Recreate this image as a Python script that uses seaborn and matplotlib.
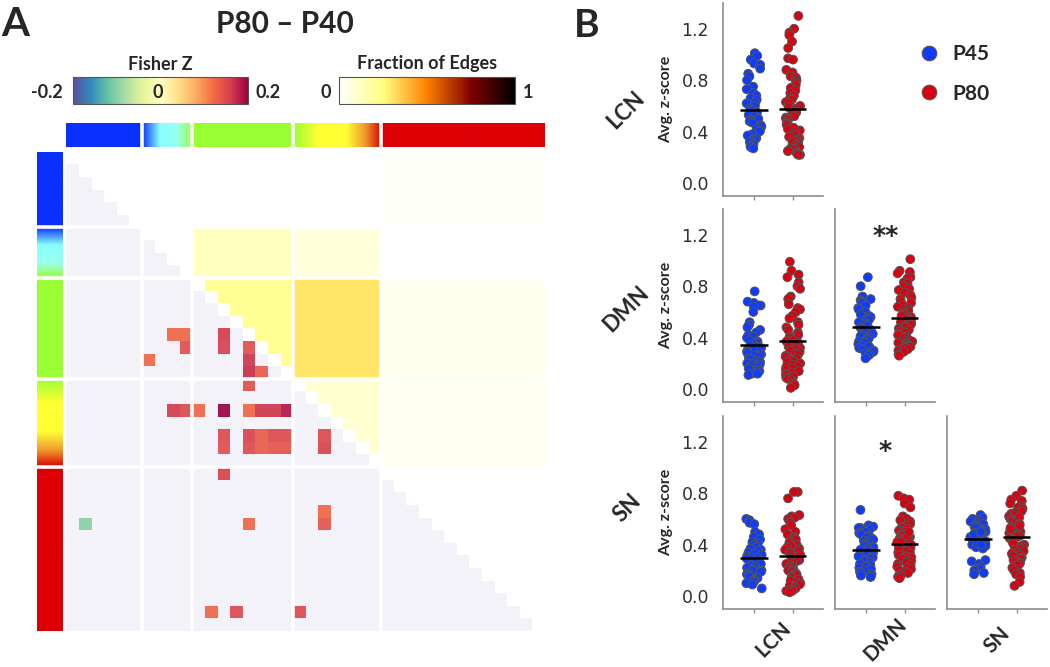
import numpy as np
import pandas as pd
import matplotlib
matplotlib.use("Agg")
import matplotlib.pyplot as plt
import seaborn as sns
from matplotlib.colors import ListedColormap, LinearSegmentedColormap, Normalize
from matplotlib.cm import ScalarMappable
from matplotlib.lines import Line2D

# ---------------- data : panel A ----------------
block_sizes = [6, 4, 8, 7, 13]
# significant edges (row, col, Fisher Z) in the lower triangle
edge_rows = [14, 14, 15, 16, 14, 15, 15, 16, 17, 17, 18,
             20, 20, 20, 20, 20, 20, 20, 20,
             22, 23, 22, 23, 22, 23, 22, 23, 22, 23, 22, 23,
             25, 28, 29, 29, 29, 36, 36, 36]
edge_cols = [8, 9, 9, 6, 12, 12, 14, 14, 14, 15, 14,
             8, 9, 10, 12, 14, 15, 16, 17,
             12, 12, 14, 14, 15, 15, 16, 16, 17, 17, 20, 20,
             12, 20, 20, 1, 14, 11, 13, 18]
edge_z = [0.125, 0.125, 0.145, 0.125, 0.16, 0.155, 0.145, 0.165, 0.17, 0.135, 0.145,
          0.16, 0.15, 0.125, 0.20, 0.125, 0.165, 0.165, 0.185,
          0.15, 0.145, 0.155, 0.15, 0.135, 0.135, 0.15, 0.14, 0.15, 0.14, 0.15, 0.155,
          0.155, 0.125, 0.14, -0.10, 0.125, 0.125, 0.15, 0.15]

# ---------------- data : panel B ----------------
networks = ["LCN", "DMN", "SN"]
groups = ["P45", "P80"]
lcn_lcn_p45 = [1.01, 0.99, 0.96, 0.93, 0.92, 0.89, 0.85, 0.83, 0.80, 0.75, 0.73, 0.70, 0.68, 0.66, 0.65,
               0.63, 0.62, 0.60, 0.58, 0.57, 0.56, 0.55, 0.54, 0.53, 0.52, 0.50, 0.49, 0.48, 0.47, 0.45,
               0.44, 0.42, 0.41, 0.40, 0.38, 0.37, 0.35, 0.34, 0.33, 0.32, 0.31, 0.30, 0.29, 0.28, 0.27]
lcn_lcn_p80 = [1.30, 1.20, 1.17, 1.15, 1.10, 1.05, 0.97, 0.96, 0.88, 0.86, 0.83, 0.82, 0.80, 0.78, 0.76,
               0.74, 0.72, 0.70, 0.68, 0.66, 0.65, 0.63, 0.62, 0.60, 0.59, 0.58, 0.56, 0.55, 0.54, 0.52,
               0.51, 0.50, 0.49, 0.47, 0.46, 0.45, 0.43, 0.42, 0.41, 0.40, 0.38, 0.37, 0.36, 0.35, 0.34,
               0.33, 0.32, 0.31, 0.30, 0.29, 0.28, 0.27, 0.27, 0.26, 0.25, 0.25, 0.24, 0.23, 0.22, 0.22]
dmn_lcn_p45 = [0.76, 0.68, 0.67, 0.65, 0.65, 0.64, 0.60, 0.52, 0.50, 0.48, 0.46, 0.44, 0.42, 0.41, 0.40,
               0.38, 0.37, 0.36, 0.35, 0.34, 0.33, 0.32, 0.31, 0.30, 0.29, 0.28, 0.27, 0.26, 0.25, 0.24,
               0.23, 0.22, 0.21, 0.20, 0.20, 0.19, 0.18, 0.17, 0.16, 0.15, 0.14, 0.13, 0.12, 0.12, 0.11]
dmn_lcn_p80 = [0.99, 0.92, 0.89, 0.87, 0.83, 0.80, 0.78, 0.72, 0.70, 0.66, 0.63, 0.62, 0.60, 0.57, 0.55,
               0.52, 0.50, 0.48, 0.46, 0.44, 0.42, 0.41, 0.40, 0.39, 0.38, 0.37, 0.36, 0.35, 0.34, 0.33,
               0.32, 0.31, 0.30, 0.29, 0.28, 0.27, 0.26, 0.25, 0.24, 0.23, 0.22, 0.21, 0.20, 0.19, 0.18,
               0.17, 0.16, 0.15, 0.14, 0.13, 0.12, 0.11, 0.10, 0.09, 0.08, 0.07, 0.05, 0.04, 0.03, 0.01]
dmn_dmn_p45 = [0.87, 0.80, 0.72, 0.70, 0.69, 0.68, 0.67, 0.65, 0.63, 0.62, 0.60, 0.58, 0.57, 0.56, 0.55,
               0.54, 0.53, 0.52, 0.51, 0.50, 0.49, 0.48, 0.47, 0.46, 0.45, 0.44, 0.43, 0.42, 0.41, 0.40,
               0.39, 0.38, 0.37, 0.36, 0.35, 0.34, 0.33, 0.32, 0.31, 0.30, 0.29, 0.28, 0.27, 0.26, 0.24]
dmn_dmn_p80 = [1.01, 0.92, 0.91, 0.90, 0.87, 0.86, 0.83, 0.82, 0.80, 0.78, 0.77, 0.75, 0.73, 0.71, 0.70,
               0.68, 0.67, 0.65, 0.64, 0.63, 0.62, 0.61, 0.60, 0.59, 0.58, 0.57, 0.56, 0.55, 0.54, 0.53,
               0.52, 0.51, 0.50, 0.49, 0.48, 0.47, 0.46, 0.45, 0.44, 0.43, 0.42, 0.41, 0.40, 0.39, 0.38,
               0.37, 0.36, 0.36, 0.35, 0.34, 0.34, 0.33, 0.33, 0.32, 0.32, 0.31, 0.30, 0.29, 0.27, 0.26]
sn_lcn_p45 = [0.60, 0.59, 0.57, 0.56, 0.50, 0.48, 0.46, 0.44, 0.42, 0.41, 0.40, 0.38, 0.37, 0.36, 0.35,
              0.34, 0.33, 0.32, 0.31, 0.30, 0.30, 0.29, 0.28, 0.27, 0.26, 0.26, 0.25, 0.24, 0.23, 0.22,
              0.21, 0.20, 0.20, 0.19, 0.18, 0.17, 0.16, 0.15, 0.14, 0.13, 0.12, 0.11, 0.10, 0.09, 0.06]
sn_lcn_p80 = [0.81, 0.81, 0.76, 0.63, 0.62, 0.61, 0.60, 0.58, 0.57, 0.55, 0.52, 0.50, 0.48, 0.46, 0.45,
              0.44, 0.42, 0.41, 0.40, 0.39, 0.38, 0.37, 0.36, 0.35, 0.34, 0.33, 0.32, 0.31, 0.30, 0.29,
              0.28, 0.27, 0.26, 0.25, 0.24, 0.23, 0.22, 0.21, 0.20, 0.20, 0.19, 0.18, 0.17, 0.16, 0.15,
              0.14, 0.13, 0.12, 0.11, 0.10, 0.09, 0.08, 0.08, 0.07, 0.06, 0.05, 0.05, 0.04, 0.04, 0.03]
sn_dmn_p45 = [0.67, 0.55, 0.54, 0.53, 0.53, 0.52, 0.51, 0.50, 0.49, 0.48, 0.47, 0.46, 0.45, 0.44, 0.43,
              0.42, 0.41, 0.40, 0.39, 0.38, 0.37, 0.36, 0.35, 0.34, 0.33, 0.32, 0.31, 0.30, 0.30, 0.29,
              0.28, 0.27, 0.26, 0.25, 0.24, 0.23, 0.22, 0.21, 0.20, 0.19, 0.18, 0.17, 0.16, 0.15, 0.15]
sn_dmn_p80 = [0.78, 0.76, 0.75, 0.72, 0.69, 0.62, 0.60, 0.59, 0.58, 0.56, 0.55, 0.54, 0.53, 0.52, 0.51,
              0.50, 0.49, 0.48, 0.47, 0.46, 0.45, 0.44, 0.43, 0.42, 0.41, 0.40, 0.40, 0.39, 0.38, 0.37,
              0.36, 0.35, 0.35, 0.34, 0.33, 0.32, 0.31, 0.30, 0.30, 0.29, 0.28, 0.27, 0.26, 0.25, 0.24,
              0.23, 0.22, 0.21, 0.20, 0.19, 0.18, 0.17, 0.16, 0.15, 0.14, 0.38, 0.42, 0.45, 0.47, 0.50]
sn_sn_p45 = [0.63, 0.61, 0.60, 0.59, 0.58, 0.57, 0.56, 0.55, 0.55, 0.54, 0.53, 0.52, 0.52, 0.51, 0.50,
             0.50, 0.49, 0.48, 0.47, 0.46, 0.45, 0.45, 0.44, 0.43, 0.42, 0.41, 0.40, 0.39, 0.38, 0.37,
             0.46, 0.47, 0.48, 0.49, 0.50, 0.41, 0.40, 0.28, 0.27, 0.25, 0.23, 0.21, 0.20, 0.18, 0.17]
sn_sn_p80 = [0.82, 0.78, 0.75, 0.74, 0.72, 0.70, 0.69, 0.68, 0.66, 0.65, 0.64, 0.63, 0.62, 0.61, 0.60,
             0.59, 0.58, 0.57, 0.56, 0.55, 0.54, 0.53, 0.52, 0.51, 0.50, 0.49, 0.48, 0.47, 0.46, 0.45,
             0.44, 0.43, 0.42, 0.41, 0.40, 0.39, 0.38, 0.37, 0.36, 0.35, 0.34, 0.33, 0.32, 0.31, 0.30,
             0.29, 0.28, 0.27, 0.26, 0.25, 0.24, 0.22, 0.20, 0.18, 0.17, 0.15, 0.11, 0.08, 0.52, 0.55]
significance = {(1, 1): "**", (2, 1): "*"}

# ---------------- styling ----------------
LAV = "#f3f2f8"
BLUE = "#0d3bff"
RED = "#d9000f"
EDGE = "#555555"
SPINE = "#8c8c8c"
block_stops = [
    [(0, "#0a30ff"), (1, "#0a30ff")],
    [(0, "#0a30ff"), (0.35, "#88ffff"), (0.7, "#99ffee"), (1, "#99ff33")],
    [(0, "#99ff33"), (1, "#99ff33")],
    [(0, "#99ff33"), (0.28, "#ffff33"), (0.6, "#ffff33"), (0.8, "#f0a030"), (1, "#dc0000")],
    [(0, "#dc0005"), (1, "#dc0005")],
]
GAP_LW = 2.6
star_y = {"**": 1.19, "*": 1.13}

sns.set_theme(style="white")
plt.rcParams["font.family"] = ["Lato", "DejaVu Sans"]

W, H = 1050, 667
fig = plt.figure(figsize=(W / 100, H / 100), dpi=100)


def box(x0, y0, x1, y1):
    return [x0 / W, 1 - y1 / H, (x1 - x0) / W, (y1 - y0) / H]


# ---------------- panel A : matrix ----------------
n = sum(block_sizes)
bounds = np.cumsum([0] + block_sizes)
node_block = np.repeat(np.arange(len(block_sizes)), block_sizes)
zmat = np.full((n, n), np.nan)
for r, c, z in zip(edge_rows, edge_cols, edge_z):
    zmat[r, c] = z
counts = np.zeros((len(block_sizes),) * 2)
for r, c in zip(edge_rows, edge_cols):
    counts[node_block[r], node_block[c]] += 1
sizes = np.array(block_sizes, dtype=float)
pairs = np.outer(sizes, sizes)
np.fill_diagonal(pairs, sizes * (sizes - 1) / 2)
frac = counts / pairs
frac_sym = frac + frac.T - np.diag(np.diag(frac))
ii, jj = np.indices((n, n))
lower = ii > jj
upper = ii < jj
fmat = np.where(upper, frac_sym[node_block[ii], node_block[jj]], np.nan)

axm = fig.add_axes(box(66.4, 151.8, 545, 631))
sns.heatmap(np.where(lower, 1.0, np.nan), ax=axm, cmap=ListedColormap([LAV]), cbar=False,
            xticklabels=False, yticklabels=False)
sns.heatmap(fmat, ax=axm, cmap="afmhot_r", vmin=0, vmax=1, cbar=False,
            xticklabels=False, yticklabels=False)
sns.heatmap(zmat, ax=axm, cmap="Spectral_r", vmin=-0.2, vmax=0.2, cbar=False,
            xticklabels=False, yticklabels=False, alpha=0.92)
for b in bounds[1:-1]:
    axm.axvline(b, color="white", lw=GAP_LW)
    axm.axhline(b, color="white", lw=GAP_LW)
axm.set_xlim(0, n)
axm.set_ylim(n, 0)

# network colour strips
axt = fig.add_axes(box(66.4, 123, 545, 147))
axl = fig.add_axes(box(37, 151.8, 62.5, 631))
grad = np.linspace(0, 1, 256)
for k in range(len(block_sizes)):
    cm_k = LinearSegmentedColormap.from_list(f"b{k}", block_stops[k])
    axt.imshow(grad[None, :], extent=[bounds[k], bounds[k + 1], 0, 1], cmap=cm_k,
               aspect="auto", interpolation="bilinear")
    axl.imshow(grad[:, None], extent=[0, 1, bounds[k + 1], bounds[k]], cmap=cm_k,
               aspect="auto", interpolation="bilinear")
axt.set_xlim(0, n); axt.set_ylim(0, 1); axt.axis("off")
axl.set_ylim(n, 0); axl.set_xlim(0, 1); axl.axis("off")
for b in bounds[1:-1]:
    axt.axvline(b, color="white", lw=GAP_LW)
    axl.axhline(b, color="white", lw=GAP_LW)

# colour bars
cax1 = fig.add_axes(box(72.7, 77, 248, 104))
cb1 = fig.colorbar(ScalarMappable(Normalize(-0.2, 0.2), "Spectral_r"), cax=cax1, orientation="horizontal")
cax2 = fig.add_axes(box(339, 77, 515, 104))
cb2 = fig.colorbar(ScalarMappable(Normalize(0, 1), "afmhot_r"), cax=cax2, orientation="horizontal")
for cb in (cb1, cb2):
    cb.set_ticks([])
    cb.outline.set_edgecolor("#555555")
    cb.outline.set_linewidth(0.8)

tk = dict(fontsize=13, fontweight="bold", va="center")
fig.text(63 / W, 1 - 93 / H, "-0.2", ha="right", **tk)
fig.text(158 / W, 1 - 92 / H, "0", ha="center", **tk)
fig.text(256 / W, 1 - 93 / H, "0.2", ha="left", **tk)
fig.text(331 / W, 1 - 93 / H, "0", ha="right", **tk)
fig.text(523 / W, 1 - 93 / H, "1", ha="left", **tk)
fig.text(160 / W, 1 - 64 / H, "Fisher Z", ha="center", va="center", fontsize=13, fontweight="bold")
fig.text(427 / W, 1 - 64 / H, "Fraction of Edges", ha="center", va="center", fontsize=13, fontweight="bold")
fig.text(285 / W, 1 - 33 / H, "P80 \u2013 P40", ha="center", va="baseline", fontsize=21.5, fontweight="bold")
fig.text(1 / W, 1 - 36 / H, "A", ha="left", va="baseline", fontsize=29, fontweight="bold")
fig.text(574 / W, 1 - 37 / H, "B", ha="left", va="baseline", fontsize=28, fontweight="bold")

# ---------------- panel B : strip plots ----------------
panels = {
    (0, 0): (lcn_lcn_p45, lcn_lcn_p80),
    (1, 0): (dmn_lcn_p45, dmn_lcn_p80),
    (1, 1): (dmn_dmn_p45, dmn_dmn_p80),
    (2, 0): (sn_lcn_p45, sn_lcn_p80),
    (2, 1): (sn_dmn_p45, sn_dmn_p80),
    (2, 2): (sn_sn_p45, sn_sn_p80),
}
col_x = [723, 835, 947]
row_y = [(3, 196), (209, 402), (416, 609)]
palette = {"P45": BLUE, "P80": RED}
np.random.seed(3)
for (i, j), (a, b) in panels.items():
    ax = fig.add_axes(box(col_x[j], row_y[i][0], col_x[j] + 100, row_y[i][1]))
    df = pd.DataFrame({"group": ["P45"] * len(a) + ["P80"] * len(b), "value": list(a) + list(b)})
    sns.stripplot(data=df, x="group", y="value", hue="group", order=groups, hue_order=groups,
                  palette=palette, jitter=0.2, size=6.3, linewidth=0.7, edgecolor=EDGE,
                  legend=False, ax=ax, zorder=2)
    for k, vals in enumerate((a, b)):
        ax.hlines(np.mean(vals), k - 0.35, k + 0.35, color="black", lw=1.8, zorder=5)
    ax.set_xlim(-0.8, 1.78)
    ax.set_ylim(-0.1, 1.4)
    ax.set_xticks([0, 1])
    ax.set_xticklabels([])
    ax.set_xlabel("")
    ax.set_yticks([0.0, 0.4, 0.8, 1.2])
    for s in ("top", "right"):
        ax.spines[s].set_visible(False)
    for s in ("left", "bottom"):
        ax.spines[s].set_color(SPINE)
        ax.spines[s].set_linewidth(1.2)
    ax.tick_params(axis="x", bottom=True, length=3, width=1, color=SPINE)
    if j == 0:
        ax.set_yticklabels(["0.0", "0.4", "0.8", "1.2"], fontsize=12.5, color="#303030",
                           family="DejaVu Sans")
        ax.tick_params(axis="y", left=False, pad=4)
        ax.set_ylabel("Avg. z-score", fontsize=11.5, fontweight="bold", labelpad=6)
    else:
        ax.set_yticklabels([])
        ax.tick_params(axis="y", left=False)
        ax.set_ylabel("")
    if (i, j) in significance:
        mark = significance[(i, j)]
        ax.text(0.5, star_y[mark], mark, ha="center", va="center", fontsize=18,
                fontweight="bold", family="DejaVu Sans")
    if i == 2:
        ax.text(0.5, -0.16, networks[j], transform=ax.transAxes, rotation=45, ha="center",
                va="center", fontsize=15, fontweight="bold")

for i, (cx, cy) in enumerate([(626, 110), (626, 309), (627, 508)]):
    fig.text(cx / W, 1 - cy / H, networks[i], rotation=45, ha="center", va="center",
             fontsize=16, fontweight="bold")

handles = [Line2D([], [], marker="o", ls="", markersize=10.5, markerfacecolor=palette[g],
                  markeredgecolor=EDGE, markeredgewidth=0.8) for g in groups]
fig.legend(handles, groups, loc="center left", bbox_to_anchor=(900 / W, 1 - 74 / H), frameon=False,
           handlelength=1, handletextpad=0.6, labelspacing=0.92, borderpad=0.4,
           prop={"weight": "bold", "size": 15})

fig.savefig("out.png", dpi=100)
